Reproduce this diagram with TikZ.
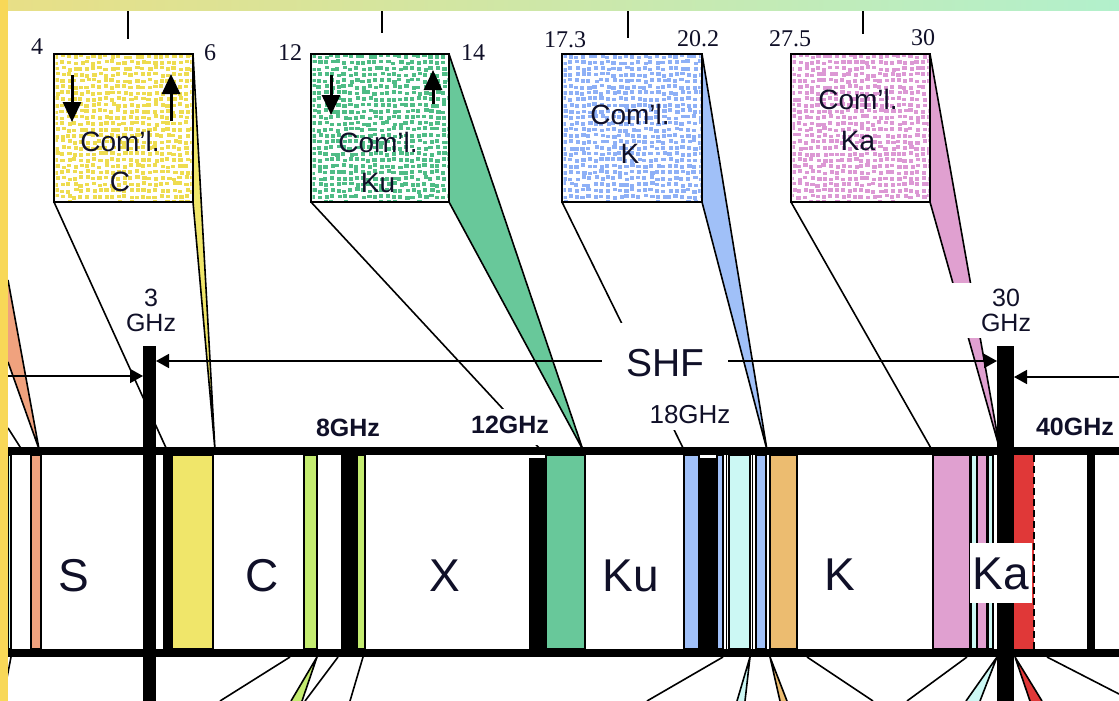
\documentclass[tikz,border=0pt]{standalone}
\usepackage{fontspec}
\setmainfont{Liberation Sans}
\newfontfamily\numserif{Liberation Serif}
\usetikzlibrary{arrows.meta}

\definecolor{ink}{HTML}{101028}
\definecolor{spYel}{HTML}{EEDC50}
\definecolor{spGrn}{HTML}{4FBC86}
\definecolor{spBlu}{HTML}{8EB0F6}
\definecolor{spPnk}{HTML}{DC98D4}
\definecolor{fYel}{HTML}{F0E66A}
\definecolor{fGrn}{HTML}{68C89A}
\definecolor{fBlu}{HTML}{A0C0F8}
\definecolor{fPnk}{HTML}{E0A0D0}
\definecolor{fSal}{HTML}{F0A27E}
\definecolor{fLim}{HTML}{C4EC70}
\definecolor{fCya}{HTML}{CCF8F4}
\definecolor{fOra}{HTML}{ECBC70}
\definecolor{fRed}{HTML}{E03838}
\definecolor{edgeYel}{HTML}{F8D858}
\definecolor{topL}{HTML}{E8DF86}
\definecolor{topR}{HTML}{B2F0CC}

% speckled fill of a box: x0, y0, x1, y1, colour
\newcommand\speckle[5]{%
  \begin{scope}
    \clip (#1+1.5,#2+1.5) rectangle (#3-1.5,#4-1.5);
    \foreach \i in {0,...,22}{
      \foreach \j in {0,...,24}{
        \pgfmathsetmacro\px{#1+0.5+\i*6.2+1.3*rand}
        \pgfmathsetmacro\py{#2+0.5+\j*6.1+1.3*rand}
        \fill[#5] (\px,\py) rectangle ++(4.2,3.7);
      }}
  \end{scope}}

\begin{document}
\begin{tikzpicture}[x=1pt,y=-1pt,
  every node/.style={text=ink, inner sep=0pt, outer sep=0pt},
  combox/.style={draw, line width=1.8, fill=white, minimum width=#1, minimum height=148},
  facet/.style={fill=#1, draw, line width=1.6, line join=round},
  proj/.style={line width=1.6},
  tickln/.style={line width=1.8},
  stripe/.style={fill=#1, draw, line width=1.2},
  boxarr/.style={line width=3, -{Triangle[length=20pt,width=18pt]}},
  hzarr/.style={line width=1.6},
  boxtxt/.style={font=\fontsize{28}{34}\selectfont, anchor=base},
  numtxt/.style={font=\numserif\fontsize{24}{28}\selectfont, anchor=base},
  bandtxt/.style={font=\fontsize{46}{50}\selectfont, anchor=base},
  ghzb/.style={font=\bfseries\fontsize{25}{30}\selectfont, anchor=base},
  ghzr/.style={font=\fontsize{26}{30}\selectfont, anchor=base},
  edgetxt/.style={font=\fontsize{25}{25}\selectfont, align=center, fill=white}
]
\pgfmathsetseed{12}
\useasboundingbox (0,0) rectangle (1119,701);
\fill[white] (0,0) rectangle (1119,701);

% ---------- tick marks under the top edge ----------
\coordinate (t1a) at (128,11);  \coordinate (t1b) at (128,39);
\coordinate (t2a) at (382,11);  \coordinate (t2b) at (382,33);
\coordinate (t3a) at (628,11);  \coordinate (t3b) at (628,38);
\coordinate (t4a) at (863,11);  \coordinate (t4b) at (863,34);
\draw[tickln] (t1a) -- (t1b);
\draw[tickln] (t2a) -- (t2b);
\draw[tickln] (t3a) -- (t3b);
\draw[tickln] (t4a) -- (t4b);

% ---------- commercial sub-band boxes (frames only, speckles later) ----------
\node[combox=139] (boxC)  at (123.5,128) {};
\node[combox=138] (boxKu) at (380,128) {};
\node[combox=140] (boxK)  at (632,128) {};
\node[combox=139] (boxKa) at (860.5,128) {};

% ---------- points on the upper edge of the band ----------
\coordinate (bC0)  at (167,450);  \coordinate (bC1)  at (215,450);
\coordinate (bKu0) at (541,450);  \coordinate (bKu1) at (583,450);
\coordinate (bK0)  at (684,450);  \coordinate (bK1)  at (767,450);
\coordinate (bKa0) at (932,450);  \coordinate (bKa1) at (1000,450);

% projections from the boxes down to the band
\filldraw[facet=fYel] (boxC.north east) -- (bC1) -- (boxC.south east);
\draw[proj] (boxC.south west) -- (bC0);
\filldraw[facet=fGrn] (boxKu.north east) -- (bKu1) -- (boxKu.south east);
\draw[proj] (boxKu.south west) -- (bKu0);
\filldraw[facet=fBlu] (boxK.north east) -- (bK1) -- (boxK.south east);
\draw[proj] (boxK.south west) -- (bK0);
\filldraw[facet=fPnk] (boxKa.north east) -- (bKa1) -- (boxKa.south east);
\draw[proj] (boxKa.south west) -- (bKa0);

% projection arriving from the left
\coordinate (oL0) at (8,280); \coordinate (oL1) at (8,362); \coordinate (oLp) at (39,449);
\filldraw[facet=fSal] (oL0) -- (oLp) -- (oL1);
\coordinate (cL0) at (8,428); \coordinate (cL1) at (22,450);
\draw[proj] (cL0) -- (cL1);

% ---------- speckles, box frames on top ----------
\speckle{54}{54}{193}{202}{spYel}
\speckle{311}{54}{449}{202}{spGrn}
\speckle{562}{54}{702}{202}{spBlu}
\speckle{791}{54}{930}{202}{spPnk}
\draw[line width=1.8] (boxC.south west) rectangle (boxC.north east);
\draw[line width=1.8] (boxKu.south west) rectangle (boxKu.north east);
\draw[line width=1.8] (boxK.south west) rectangle (boxK.north east);
\draw[line width=1.8] (boxKa.south west) rectangle (boxKa.north east);

% up / down link arrows
\coordinate (dC0) at (72,75);   \coordinate (dC1) at (72,122);
\coordinate (uC0) at (171,121); \coordinate (uC1) at (171,74);
\coordinate (dKu0) at (331,75);  \coordinate (dKu1) at (331,115);
\coordinate (uKu0) at (433,104); \coordinate (uKu1) at (433,70);
\draw[boxarr] (dC0) -- (dC1);
\draw[boxarr] (uC0) -- (uC1);
\draw[boxarr] (dKu0) -- (dKu1);
\draw[boxarr] (uKu0) -- (uKu1);

% box texts
\node[boxtxt] (cC1)  at (120,151) {Com'l.};
\node[boxtxt] (cC2)  at (120,191) {C};
\node[boxtxt] (cKu1) at (378,152) {Com'l.};
\node[boxtxt] (cKu2) at (378,192) {Ku};
\node[boxtxt] (cK1)  at (630,124) {Com'l.};
\node[boxtxt] (cK2)  at (630,163) {K};
\node[boxtxt] (cKa1) at (858,110) {Com'l.};
\node[boxtxt] (cKa2) at (858,150) {Ka};

% edge frequencies
\node[numtxt] (n4)   at (37,55)  {4};
\node[numtxt] (n6)   at (210,60) {6};
\node[numtxt] (n12)  at (290,61) {12};
\node[numtxt] (n14)  at (473,61) {14};
\node[numtxt] (n173) at (565,48) {17.3};
\node[numtxt] (n202) at (698,47) {20.2};
\node[numtxt] (n275) at (790,47) {27.5};
\node[numtxt] (n30)  at (923,46) {30};

% ---------- fan of lines below the band ----------
\coordinate (q1a) at (11,657);   \coordinate (q1b) at (5,688);
\coordinate (q2a) at (290,657);  \coordinate (q2b) at (220,701);
\coordinate (q3a) at (317,657);  \coordinate (q3b) at (291,701); \coordinate (q3c) at (302,701);
\coordinate (q4a) at (338,657);  \coordinate (q4b) at (305,701);
\coordinate (q5a) at (363,657);  \coordinate (q5b) at (350,701);
\coordinate (q6a) at (723,657);  \coordinate (q6b) at (647,701);
\coordinate (q7a) at (750,657);  \coordinate (q7b) at (737,701); \coordinate (q7c) at (745,701);
\coordinate (q8a) at (770,657);  \coordinate (q8b) at (780,701); \coordinate (q8c) at (787,701);
\coordinate (q9a) at (807,657);  \coordinate (q9b) at (873,701);
\coordinate (q10a) at (967,657); \coordinate (q10b) at (907,701);
\coordinate (q11a) at (997,657); \coordinate (q11b) at (966,701); \coordinate (q11c) at (980,701);
\coordinate (q12a) at (1015,657);\coordinate (q12b) at (1030,701);\coordinate (q12c) at (1042,701);
\coordinate (q13a) at (1047,657);\coordinate (q13b) at (1119,694);
\draw[proj] (q1a) -- (q1b);
\draw[proj] (q2a) -- (q2b);
\filldraw[facet=fLim] (q3b) -- (q3a) -- (q3c);
\draw[proj] (q4a) -- (q4b);
\draw[proj] (q5a) -- (q5b);
\draw[proj] (q6a) -- (q6b);
\filldraw[facet=fCya] (q7b) -- (q7a) -- (q7c);
\filldraw[facet=fOra] (q8b) -- (q8a) -- (q8c);
\draw[proj] (q9a) -- (q9b);
\draw[proj] (q10a) -- (q10b);
\filldraw[facet=fCya] (q11b) -- (q11a) -- (q11c);
\filldraw[facet=fRed] (q12b) -- (q12a) -- (q12c);
\draw[proj] (q13a) -- (q13b);

% ---------- the band ----------
\foreach \a/\b/\c in {8/11/fCya, 31/41/fSal, 172/213/fYel, 304/317/fLim, 357/365/fLim,
                      546/585/fGrn, 684/699/fBlu, 717/723/fBlu, 729/750/fCya, 756/766/fBlu,
                      770/797/fOra, 933/970/fPnk, 971/977/fCya, 977/987/fPnk, 988/993/fCya}
  \filldraw[stripe=\c] (\a,455) rectangle (\b,649);
\draw[line width=1] (726,455) -- (726,649);
\draw[line width=1] (752,455) -- (752,649);
\fill[fRed] (1014,455) rectangle (1034,649);
\draw[line width=1.6, dash pattern=on 7pt off 4pt] (1034,455) -- (1034,649);
% blocked allocations
\fill (163,455) rectangle (172,649);
\fill (341,455) rectangle (357,649);
\fill (529,458) rectangle (546,649);
\fill (699,458) rectangle (717,649);
\fill (1087,455) rectangle (1095,649);
% upper and lower edges of the band
\coordinate (eT0) at (8,451);  \coordinate (eT1) at (1119,451);
\coordinate (eB0) at (8,653);  \coordinate (eB1) at (1119,653);
\draw[line width=8] (eT0) -- (eT1);
\draw[line width=8] (eB0) -- (eB1);

% 3 GHz and 30 GHz limits
\node[fill=black, minimum width=13, minimum height=355] (bar3)  at (149.5,523.5) {};
\node[fill=black, minimum width=17, minimum height=355] (bar30) at (1005.5,523.5) {};

% range arrows
\coordinate (shfL) at (156,361);  \coordinate (shfR) at (997,361);
\coordinate (uhfS) at (8,376);    \coordinate (uhfE) at (143,376);
\coordinate (ehfS) at (1119,377); \coordinate (ehfE) at (1014,377);
\draw[hzarr, {Triangle[length=13pt,width=14pt]}-{Triangle[length=13pt,width=14pt]}] (shfL) -- (shfR);
\draw[hzarr, -{Triangle[length=13pt,width=14pt]}] (uhfS) -- (uhfE);
\draw[hzarr, -{Triangle[length=13pt,width=14pt]}] (ehfS) -- (ehfE);

% ---------- labels ----------
\node[font=\fontsize{39}{44}\selectfont, anchor=base, fill=white, inner xsep=24pt, inner ysep=26pt] (shf) at (665,376) {SHF};
\node[ghzb, fill=white, inner xsep=3pt, inner ysep=7pt, text depth=5pt] (g12) at (510,433) {12GHz};
\node[ghzr, fill=white, inner xsep=3pt, inner ysep=7pt] (g18) at (690,423) {18GHz};
\node[ghzb] (g8) at (348,436) {8GHz};
\node[ghzb, anchor=base west] (g40) at (1036,435) {40GHz};
\node[edgetxt, inner sep=1pt] (g3) at (151,310.5) {3\\GHz};
\node[edgetxt, minimum width=116, minimum height=55] (g30) at (1006,310.5) {30\\GHz};

\node[bandtxt] (lS)  at (74,591)  {S};
\node[bandtxt] (lC)  at (262,591) {C};
\node[bandtxt] (lX)  at (445,591) {X};
\node[bandtxt] (lKu) at (631,591) {Ku};
\node[bandtxt] (lK)  at (840,590) {K};
\node[bandtxt, fill=white, inner xsep=3pt, inner ysep=14pt] (lKa) at (1001,589) {Ka};

% ---------- coloured page edges ----------
\shade[left color=topL, right color=topR] (0,0) rectangle (1119,11);
\fill[edgeYel] (0,0) rectangle (8,701);
\end{tikzpicture}
\end{document}
